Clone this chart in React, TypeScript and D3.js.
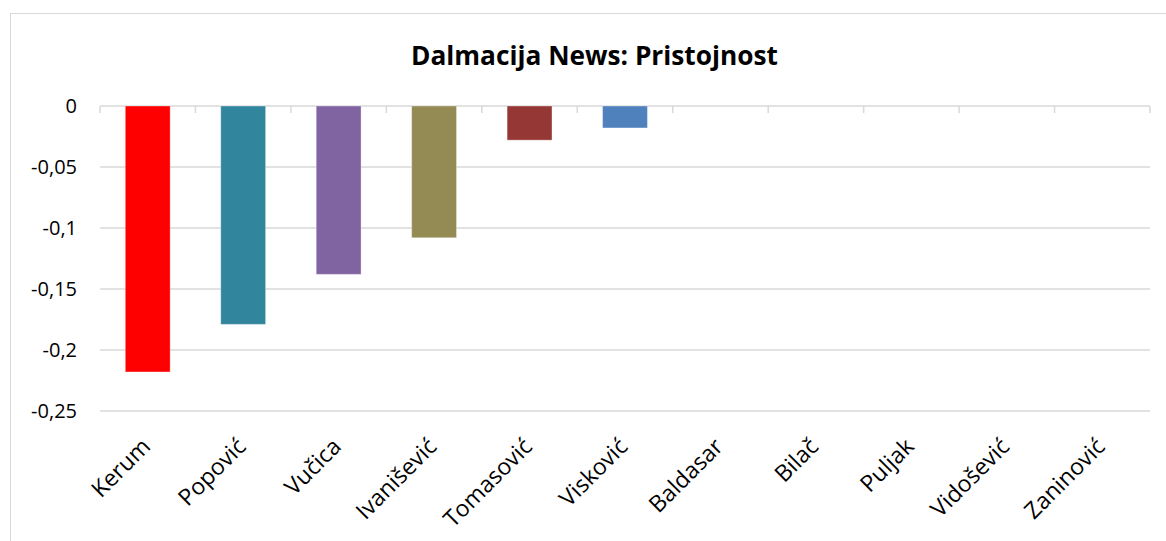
import React from "react";
import * as d3 from "d3";

const categories = ["Kerum", "Popović", "Vučica", "Ivanišević", "Tomasović", "Visković", "Baldasar", "Bilač", "Puljak", "Vidošević", "Zaninović"];
const values = [-0.218, -0.179, -0.138, -0.108, -0.028, -0.018, 0, 0, 0, 0, 0];
const colors = ["#FF0000", "#31859C", "#8064A2", "#948A54", "#953735", "#4F81BD", "#4BACC6", "#F79646", "#2C4D75", "#772C2A", "#5F7530"];
const yTicks = [0, -0.05, -0.1, -0.15, -0.2, -0.25];
const title = "Dalmacija News: Pristojnost";

export default function App() {
  const W = 1166, H = 541;
  const left = 100, right = 1150, top = 106, bottom = 411;
  const x = d3.scaleBand().domain(categories).range([left, right]).paddingInner(0.53).paddingOuter(0.265);
  const y = d3.scaleLinear().domain([0, -0.25]).range([top, bottom]);
  const fmt = (v: number) => (v === 0 ? "0" : String(v).replace(".", ","));
  const step = x.step();
  const font = "'Open Sans', sans-serif";
  return (
    <svg width={W} height={H} style={{ position: "absolute", left: 0, top: 0, background: "#fff" }}>
      <rect x={10.5} y={13.5} width={W} height={H} fill="#fff" stroke="#d9d9d9" />
      <text x={594.5} y={65} textAnchor="middle" fontFamily={font} fontWeight="bold" fontSize={27} textLength={367} lengthAdjust="spacingAndGlyphs" fill="#000">{title}</text>
      {yTicks.map((t) => (
        <g key={t}>
          <line x1={left} x2={right} y1={y(t)} y2={y(t)} stroke="#d9d9d9" strokeWidth={1.5} />
          <text x={77} y={y(t) + 7} textAnchor="end" fontFamily={font} fontSize={20} fill="#000">{fmt(t)}</text>
        </g>
      ))}
      {d3.range(categories.length + 1).map((i) => (
        <line key={i} x1={left + i * step} x2={left + i * step} y1={top} y2={top + 7} stroke="#d9d9d9" strokeWidth={1.5} />
      ))}
      {categories.map((c, i) => {
        const v = values[i];
        if (v === 0) return null;
        return (
          <rect key={c} x={x(c)} y={y(0)} width={x.bandwidth()} height={y(v) - y(0)} fill={colors[i]} stroke="rgba(255,255,255,0.35)" strokeWidth={1} />
        );
      })}
      {categories.map((c) => {
        const cx = (x(c) as number) + x.bandwidth() / 2;
        return (
          <text key={c} transform={`translate(${cx + 4},${448}) rotate(-45)`} textAnchor="end" fontFamily={font} fontSize={23} fill="#000">{c}</text>
        );
      })}
    </svg>
  );
}
